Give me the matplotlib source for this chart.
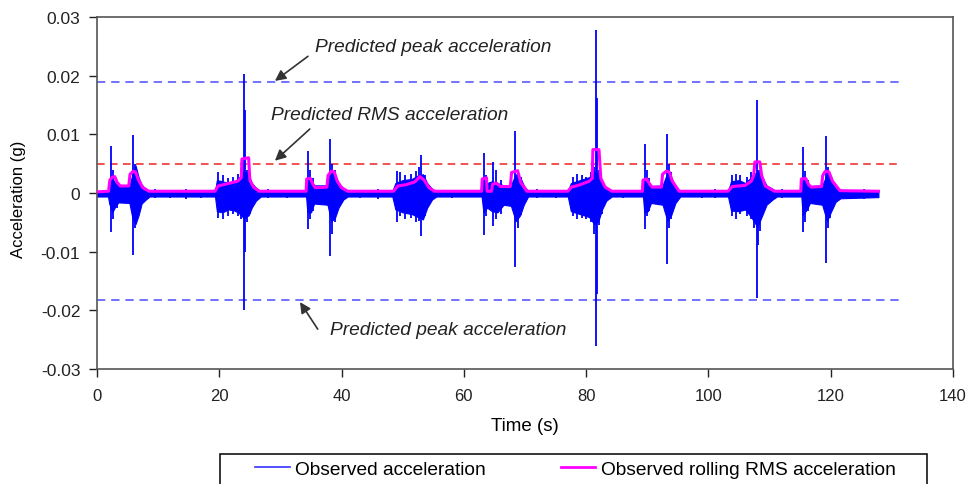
import numpy as np
import matplotlib
matplotlib.use('Agg')
import matplotlib.pyplot as plt
from matplotlib.lines import Line2D
from matplotlib.patches import Rectangle

plt.rcParams['font.family'] = ['Liberation Sans', 'DejaVu Sans']
plt.rcParams['axes.unicode_minus'] = False

# envelope of the observed acceleration (time s, upper g, lower g)
env_t = [0.0, 1.8, 2.0, 2.5, 3.0, 3.5, 5.3, 5.8, 6.3, 6.8, 7.3, 8.0, 8.6,
         19.3, 19.6, 20.5, 21.5, 22.5, 23.3, 24.0, 24.8, 25.3, 26.0, 26.8,
         34.2, 34.4, 35.0, 35.5, 37.7, 38.3, 38.9, 39.5, 40.3, 41.0,
         48.3, 48.8, 50.0, 51.5, 52.5, 53.3, 54.0, 54.8, 55.5,
         62.9, 63.2, 63.8, 64.6, 65.5, 66.5, 67.7, 68.5, 69.2, 69.8, 70.5,
         77.0, 77.5, 79.0, 80.5, 81.3, 82.0, 82.6, 83.3, 84.2,
         89.3, 89.5, 90.1, 90.6, 92.5, 93.3, 93.9, 94.6, 95.4,
         103.2, 103.7, 105.0, 106.0, 107.0, 108.0, 108.8, 109.5, 110.5, 111.2,
         115.2, 115.4, 116.1, 116.6, 118.6, 119.4, 120.0, 120.8, 121.6, 127.8]
env_hi = [0.0003, 0.0003, 0.0014, 0.0025, 0.0017, 0.0012, 0.0012, 0.0032, 0.0047, 0.0027, 0.0014, 0.0007, 0.0003,
          0.0003, 0.0022, 0.0020, 0.0017, 0.0020, 0.0027, 0.0037, 0.0032, 0.0017, 0.0009, 0.0003,
          0.0003, 0.0022, 0.0022, 0.0013, 0.0013, 0.0037, 0.0032, 0.0017, 0.0008, 0.0003,
          0.0003, 0.0017, 0.0022, 0.0024, 0.0030, 0.0032, 0.0017, 0.0007, 0.0003,
          0.0003, 0.0022, 0.0017, 0.0020, 0.0017, 0.0013, 0.0014, 0.0032, 0.0027, 0.0013, 0.0003,
          0.0003, 0.0017, 0.0022, 0.0027, 0.0037, 0.0032, 0.0017, 0.0009, 0.0003,
          0.0003, 0.0022, 0.0020, 0.0012, 0.0013, 0.0035, 0.0027, 0.0011, 0.0003,
          0.0003, 0.0020, 0.0022, 0.0017, 0.0027, 0.0037, 0.0027, 0.0013, 0.0007, 0.0003,
          0.0003, 0.0022, 0.0020, 0.0012, 0.0013, 0.0032, 0.0024, 0.0011, 0.0005, 0.0004]
env_lo = [-0.0006, -0.0006, -0.0018, -0.0033, -0.0023, -0.0016, -0.0017, -0.0043, -0.0053, -0.0038, -0.0018, -0.0011, -0.0006,
          -0.0006, -0.0031, -0.0033, -0.0028, -0.0030, -0.0035, -0.0043, -0.0038, -0.0025, -0.0013, -0.0006,
          -0.0006, -0.0033, -0.0033, -0.0018, -0.0020, -0.0048, -0.0043, -0.0025, -0.0011, -0.0006,
          -0.0006, -0.0028, -0.0033, -0.0036, -0.0041, -0.0045, -0.0025, -0.0011, -0.0006,
          -0.0006, -0.0033, -0.0025, -0.0031, -0.0033, -0.0020, -0.0022, -0.0048, -0.0038, -0.0020, -0.0006,
          -0.0006, -0.0031, -0.0036, -0.0041, -0.0053, -0.0048, -0.0028, -0.0013, -0.0006,
          -0.0006, -0.0033, -0.0031, -0.0017, -0.0020, -0.0048, -0.0038, -0.0017, -0.0006,
          -0.0006, -0.0030, -0.0031, -0.0028, -0.0041, -0.0058, -0.0038, -0.0020, -0.0011, -0.0006,
          -0.0006, -0.0038, -0.0028, -0.0017, -0.0020, -0.0048, -0.0033, -0.0015, -0.0009, -0.0007]

# individual spikes in the observed acceleration
spike_t = [2.3, 5.9, 24.0, 24.15, 34.5, 38.1, 49.1, 53.0, 63.3, 64.7, 68.4,
           81.6, 81.75, 89.7, 93.2, 104.5, 108.0, 108.15, 115.5, 119.2,
           2.6, 3.2, 6.2, 6.6, 7.0,
           19.8, 20.6, 21.4, 22.2, 23.0, 23.6, 24.5, 25.0,
           34.8, 35.3, 38.5, 38.9, 39.3,
           49.5, 50.4, 51.3, 52.2, 52.7, 53.6,
           63.6, 65.3, 66.0, 68.8, 69.3,
           77.8, 78.5, 79.3, 80.0, 80.8, 81.3, 82.1, 82.6,
           89.9, 90.3, 93.5, 93.9,
           103.9, 105.2, 106.3, 106.9, 107.5, 108.5, 109.0,
           115.8, 116.3, 119.5, 119.9, 120.4,
           9.5, 12.0, 14.5, 17.0, 28.0, 31.0, 43.0, 46.0, 58.0, 72.0, 75.0,
           86.0, 99.0, 101.0, 112.0, 123.0, 125.5, 127.0]
spike_hi = [0.0080, 0.0099, 0.0203, 0.0142, 0.0072, 0.0092, 0.0037, 0.0064, 0.0068, 0.0052, 0.0106,
            0.0277, 0.0162, 0.0084, 0.0100, 0.0032, 0.0158, 0.0040, 0.0079, 0.0098,
            0.0040, 0.0018, 0.0050, 0.0035, 0.0020,
            0.0035, 0.0030, 0.0025, 0.0028, 0.0032, 0.0042, 0.0040, 0.0025,
            0.0040, 0.0025, 0.0050, 0.0040, 0.0022,
            0.0035, 0.0030, 0.0033, 0.0038, 0.0045, 0.0030,
            0.0030, 0.0040, 0.0022, 0.0040, 0.0028,
            0.0028, 0.0032, 0.0030, 0.0028, 0.0035, 0.0045, 0.0040, 0.0022,
            0.0040, 0.0025, 0.0050, 0.0035,
            0.0030, 0.0030, 0.0028, 0.0035, 0.0040, 0.0040, 0.0022,
            0.0038, 0.0022, 0.0045, 0.0030, 0.0018,
            0.0006, 0.0005, 0.0006, 0.0005, 0.0006, 0.0005, 0.0005, 0.0006, 0.0005, 0.0006, 0.0005,
            0.0005, 0.0005, 0.0006, 0.0006, 0.0005, 0.0006, 0.0005]
spike_lo = [-0.0067, -0.0105, -0.0200, -0.0100, -0.0062, -0.0108, -0.0050, -0.0074, -0.0072, -0.0056, -0.0126,
            -0.0260, -0.0172, -0.0062, -0.0121, -0.0044, -0.0179, -0.0088, -0.0067, -0.0119,
            -0.0045, -0.0025, -0.0060, -0.0045, -0.0030,
            -0.0042, -0.0045, -0.0040, -0.0035, -0.0040, -0.0045, -0.0050, -0.0035,
            -0.0045, -0.0030, -0.0070, -0.0050, -0.0030,
            -0.0040, -0.0045, -0.0042, -0.0050, -0.0048, -0.0040,
            -0.0040, -0.0045, -0.0035, -0.0060, -0.0038,
            -0.0040, -0.0045, -0.0042, -0.0044, -0.0050, -0.0070, -0.0055, -0.0035,
            -0.0040, -0.0030, -0.0060, -0.0045,
            -0.0040, -0.0035, -0.0040, -0.0045, -0.0060, -0.0065, -0.0035,
            -0.0050, -0.0030, -0.0060, -0.0042, -0.0025,
            -0.0009, -0.0008, -0.0010, -0.0008, -0.0009, -0.0009, -0.0008, -0.0010, -0.0008, -0.0009, -0.0008,
            -0.0008, -0.0009, -0.0008, -0.0009, -0.0009, -0.0010, -0.0009]

# observed rolling RMS acceleration
rms_t = [0.0, 1.9, 2.1, 2.5, 2.9, 3.3, 3.8, 5.2, 5.4, 5.9, 6.3, 6.8, 7.5, 8.5,
         19.3, 19.8, 21.0, 23.0, 23.6, 23.7, 24.8, 25.0, 25.6, 26.5,
         34.2, 34.3, 34.9, 35.3, 35.7, 37.6, 37.8, 38.3, 38.8, 39.3, 40.0, 41.0,
         48.5, 49.2, 50.5, 52.0, 52.8, 53.5, 54.3, 55.2,
         62.9, 63.0, 63.7, 63.8, 64.5, 64.7, 65.3, 66.0, 67.6, 67.8, 68.8, 69.3, 70.3,
         77.0, 77.6, 79.0, 80.5, 81.0, 81.1, 82.1, 82.4, 83.1, 84.2,
         89.2, 89.3, 89.9, 90.4, 90.8, 92.3, 92.5, 93.1, 93.6, 94.1, 95.2,
         103.2, 103.9, 106.0, 107.0, 107.4, 107.6, 108.4, 108.7, 109.3, 110.8,
         115.1, 115.2, 115.9, 116.4, 116.8, 118.5, 118.7, 119.1, 119.7, 120.3, 121.5, 127.8]
rms_v = [0.0002, 0.0003, 0.0022, 0.0027, 0.0028, 0.0018, 0.0012, 0.0012, 0.0032, 0.0037, 0.0036, 0.0022, 0.0009, 0.0003,
         0.0003, 0.0012, 0.0015, 0.0020, 0.0026, 0.0058, 0.0060, 0.0022, 0.0010, 0.0003,
         0.0003, 0.0024, 0.0025, 0.0015, 0.0009, 0.0010, 0.0030, 0.0037, 0.0036, 0.0020, 0.0009, 0.0003,
         0.0003, 0.0012, 0.0014, 0.0019, 0.0028, 0.0022, 0.0009, 0.0003,
         0.0003, 0.0024, 0.0026, 0.0003, 0.0003, 0.0015, 0.0017, 0.0011, 0.0011, 0.0035, 0.0038, 0.0018, 0.0003,
         0.0003, 0.0010, 0.0014, 0.0020, 0.0025, 0.0074, 0.0074, 0.0025, 0.0010, 0.0003,
         0.0003, 0.0022, 0.0024, 0.0015, 0.0010, 0.0010, 0.0032, 0.0037, 0.0036, 0.0020, 0.0003,
         0.0003, 0.0011, 0.0013, 0.0020, 0.0030, 0.0053, 0.0053, 0.0030, 0.0012, 0.0003,
         0.0003, 0.0024, 0.0025, 0.0014, 0.0010, 0.0011, 0.0030, 0.0037, 0.0036, 0.0020, 0.0004, 0.0003]

# predicted levels
pred_peak_hi = 0.0189
pred_peak_lo = -0.0182
pred_rms = 0.0049
pred_t_end = 131.3

xticks = [0, 20, 40, 60, 80, 100, 120, 140]
yticks = [-0.03, -0.02, -0.01, 0, 0.01, 0.02, 0.03]
ytick_labels = ['-0.03', '-0.02', '-0.01', '0', '0.01', '0.02', '0.03']

fig = plt.figure(figsize=(9.69, 4.85), dpi=100)
ax = fig.add_axes([0.1001, 0.2371, 0.8834, 0.7258])

ax.fill_between(env_t, env_lo, env_hi, color='#0000ff', lw=0.8, zorder=2)
ax.vlines(spike_t, spike_lo, spike_hi, color='#0000ff', lw=1.3, zorder=2)
ax.plot(rms_t, rms_v, color='#ff00ff', lw=2.2, zorder=3)

ax.plot([0, pred_t_end], [pred_peak_hi, pred_peak_hi], color='#5a5aff', lw=1.2,
        dashes=(5, 3.5), zorder=1)
ax.plot([0, pred_t_end], [pred_peak_lo, pred_peak_lo], color='#5a5aff', lw=1.2,
        dashes=(5, 3.5), zorder=1)
ax.plot([0, pred_t_end], [pred_rms, pred_rms], color='#ee2222', lw=1.1,
        dashes=(5, 3.5), zorder=1)

arrow = dict(arrowstyle='-|>', color='#333333', lw=1.2, mutation_scale=16,
             shrinkA=0, shrinkB=0)
ax.annotate('', xy=(29.1, 0.0191), xytext=(34.5, 0.0233), arrowprops=arrow)
ax.annotate('', xy=(29.1, 0.0055), xytext=(34.8, 0.0109), arrowprops=arrow)
ax.annotate('', xy=(33.2, -0.0186), xytext=(36.1, -0.0232), arrowprops=arrow)
note = dict(style='italic', fontsize=13.8, va='center', ha='left', color='#222222')
ax.text(35.6, 0.0250, 'Predicted peak acceleration', **note)
ax.text(28.5, 0.0133, 'Predicted RMS acceleration', **note)
ax.text(38.1, -0.0233, 'Predicted peak acceleration', **note)

ax.set_xlim(0, 140)
ax.set_ylim(-0.03, 0.03)
ax.set_xticks(xticks)
ax.set_yticks(yticks)
ax.set_yticklabels(ytick_labels)
ax.tick_params(direction='out', length=6, width=1, colors='#222222')
ax.tick_params(axis='x', pad=8, labelsize=12)
ax.tick_params(axis='y', pad=6, labelsize=12.5)
for s in ax.spines.values():
    s.set_color('#555555')
    s.set_linewidth(1.2)

ax.set_xlabel('Time (s)', fontsize=13.5, labelpad=10)
ax.set_ylabel('Acceleration (g)', fontsize=12)
ax.yaxis.set_label_coords(-0.083, 0.485)

# legend box runs off the bottom edge of the image
fig.add_artist(Rectangle((220 / 969, -0.02), 707 / 969, 0.082, transform=fig.transFigure,
                         fill=False, ec='black', lw=1.1))
handles = [Line2D([], [], color='#3333ff', lw=1.2),
           Line2D([], [], color='#ff00ff', lw=2)]
fig.legend(handles, ['Observed acceleration', 'Observed rolling RMS acceleration'],
           loc='center left', bbox_to_anchor=(255 / 969, 1 - 470 / 485), ncol=2,
           fontsize=13.8, frameon=False, handlelength=1.8, handletextpad=0.3,
           columnspacing=3.9, borderpad=0, borderaxespad=0)

fig.savefig('out.png', dpi=100)
